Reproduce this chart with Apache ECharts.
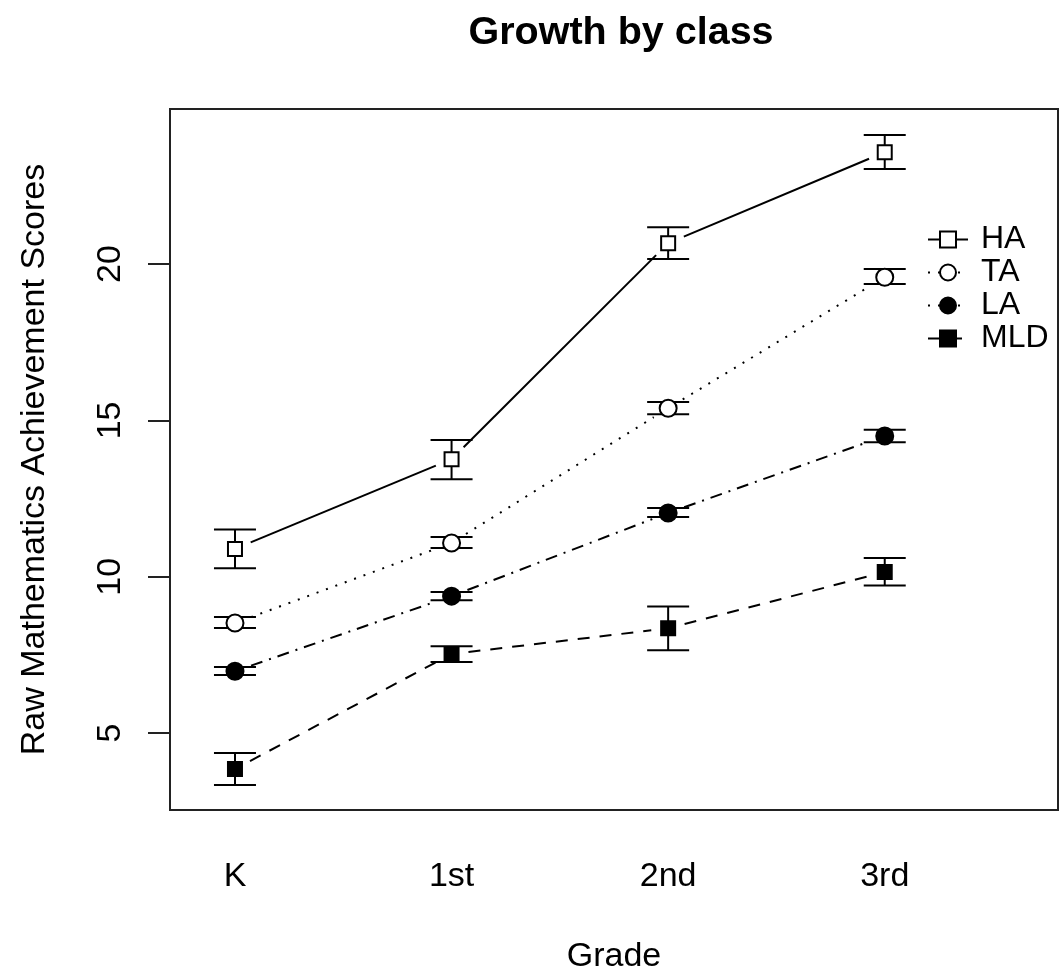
<!DOCTYPE html>
<html>
<head>
<meta charset="utf-8">
<script src="https://cdn.jsdelivr.net/npm/echarts@6/dist/echarts.min.js"></script>
<style>
  html, body { margin: 0; padding: 0; background: #fff; }
  #chart { width: 1060px; height: 975px; }
</style>
</head>
<body>
<div id="chart"></div>
<script>
// ---- data ----
const grades = ['K', '1st', '2nd', '3rd'];
const groups = ['HA', 'TA', 'LA', 'MLD'];
const yTicks = [5, 10, 15, 20];

const HA_mean  = [10.89, 13.76, 20.67, 23.58];
const HA_lo    = [10.27, 13.12, 20.16, 23.04];
const HA_hi    = [11.51, 14.37, 21.18, 24.13];

const TA_mean  = [8.52, 11.08, 15.39, 19.58];
const TA_lo    = [8.36, 10.92, 15.20, 19.36];
const TA_hi    = [8.71, 11.27, 15.59, 19.84];

const LA_mean  = [6.98, 9.38, 12.04, 14.50];
const LA_lo    = [6.86, 9.25, 11.91, 14.30];
const LA_hi    = [7.11, 9.51, 12.20, 14.70];

const MLD_mean = [3.85, 7.53, 8.35, 10.15];
const MLD_lo   = [3.34, 7.27, 7.65, 9.72];
const MLD_hi   = [4.36, 7.78, 9.05, 10.60];

// ---- styles ----
const FONT = '"Liberation Sans", Arial, Helvetica, sans-serif';
const means = [HA_mean, TA_mean, LA_mean, MLD_mean];
const los = [HA_lo, TA_lo, LA_lo, MLD_lo];
const his = [HA_hi, TA_hi, LA_hi, MLD_hi];
const symbols = ['rect', 'circle', 'circle', 'rect'];
const symSizes = [14, 17, 17, 14];
const fills = ['#fff', '#fff', '#000', '#000'];
const dashes = [null, [2, 8], [12, 7, 2, 7], [12, 10]];
const legendDashes = ['solid', [2, 8], [2, 8], [14, 6]];
const GAP = 17;

const series = [];
// error bars
groups.forEach((g, k) => {
  series.push({
    type: 'custom',
    name: g + ' error',
    z: 2,
    silent: true,
    renderItem: function (params, api) {
      const x = api.value(0);
      const lo = api.coord([x, api.value(1)]);
      const hi = api.coord([x, api.value(2)]);
      const hw = 21;
      const st = { stroke: '#000', lineWidth: 2 };
      return {
        type: 'group',
        children: [
          { type: 'line', shape: { x1: lo[0], y1: lo[1], x2: hi[0], y2: hi[1] }, style: st },
          { type: 'line', shape: { x1: lo[0] - hw, y1: lo[1], x2: lo[0] + hw, y2: lo[1] }, style: st },
          { type: 'line', shape: { x1: hi[0] - hw, y1: hi[1], x2: hi[0] + hw, y2: hi[1] }, style: st }
        ]
      };
    },
    encode: { x: 0, y: [1, 2] },
    data: grades.map((_, i) => [i + 1, los[k][i], his[k][i]])
  });
});
// connecting segments with gaps around points (R type = "b")
groups.forEach((g, k) => {
  const segs = [];
  for (let i = 0; i < grades.length - 1; i++) {
    segs.push([i + 1, means[k][i], i + 2, means[k][i + 1]]);
  }
  series.push({
    type: 'custom',
    name: g + ' line',
    z: 3,
    silent: true,
    renderItem: function (params, api) {
      const p1 = api.coord([api.value(0), api.value(1)]);
      const p2 = api.coord([api.value(2), api.value(3)]);
      const dx = p2[0] - p1[0], dy = p2[1] - p1[1];
      const len = Math.sqrt(dx * dx + dy * dy);
      const ux = dx / len, uy = dy / len;
      const style = { stroke: '#000', lineWidth: 2 };
      if (dashes[k]) style.lineDash = dashes[k];
      return {
        type: 'line',
        shape: {
          x1: p1[0] + ux * GAP, y1: p1[1] + uy * GAP,
          x2: p2[0] - ux * GAP, y2: p2[1] - uy * GAP
        },
        style: style
      };
    },
    encode: { x: [0, 2], y: [1, 3] },
    data: segs
  });
});
// points (and legend entries)
groups.forEach((g, k) => {
  series.push({
    type: 'line',
    name: g,
    z: 5,
    symbol: symbols[k],
    symbolSize: symSizes[k],
    showAllSymbol: true,
    lineStyle: { color: '#000', width: 2, opacity: 0 },
    itemStyle: { color: fills[k], borderColor: '#000', borderWidth: 2 },
    emphasis: { disabled: true },
    data: grades.map((_, i) => [i + 1, means[k][i]])
  });
});

const chart = echarts.init(document.getElementById('chart'), null, { renderer: 'canvas' });
chart.setOption({
  animation: false,
  backgroundColor: '#fff',
  title: {
    text: 'Growth by class',
    left: 616, top: 8, textAlign: 'center',
    textStyle: { fontFamily: FONT, fontSize: 39.5, fontWeight: 'bold', color: '#000' }
  },
  legend: {
    data: groups.map((g, k) => ({
      name: g,
      lineStyle: { color: '#000', width: 2, opacity: 1, type: legendDashes[k] }
    })),
    orient: 'vertical',
    left: 922, top: 218,
    itemWidth: 40, itemHeight: 20,
    itemGap: 0,
    selectedMode: false,
    textStyle: { fontFamily: FONT, fontSize: 32, lineHeight: 33, color: '#000', padding: [0, 0, 0, 8] }
  },
  grid: {
    left: 170, top: 109, right: 2, bottom: 165,
    outerBoundsMode: 'none', containLabel: false,
    show: true, borderColor: '#222', borderWidth: 2, backgroundColor: 'transparent'
  },
  xAxis: {
    type: 'value', min: 0.7, max: 4.8,
    axisLine: { show: false },
    axisTick: { show: false },
    splitLine: { show: false },
    axisLabel: {
      customValues: [1, 2, 3, 4],
      formatter: v => grades[Math.round(v) - 1],
      fontFamily: FONT, fontSize: 34, color: '#000', margin: 50
    },
    name: 'Grade', nameLocation: 'middle', nameGap: 130,
    nameTextStyle: { fontFamily: FONT, fontSize: 34, color: '#000' }
  },
  yAxis: {
    type: 'value', min: 2.54, max: 24.96,
    axisLine: { show: false },
    splitLine: { show: false },
    axisTick: { show: true, customValues: yTicks, length: 22, lineStyle: { color: '#222', width: 2 } },
    axisLabel: {
      customValues: yTicks, rotate: 90,
      fontFamily: FONT, fontSize: 34, color: '#000', margin: 42
    },
    name: 'Raw Mathematics Achievement Scores', nameLocation: 'middle', nameGap: 118,
    nameTextStyle: { fontFamily: FONT, fontSize: 34, color: '#000' }
  },
  series: series
});
</script>
</body>
</html>
